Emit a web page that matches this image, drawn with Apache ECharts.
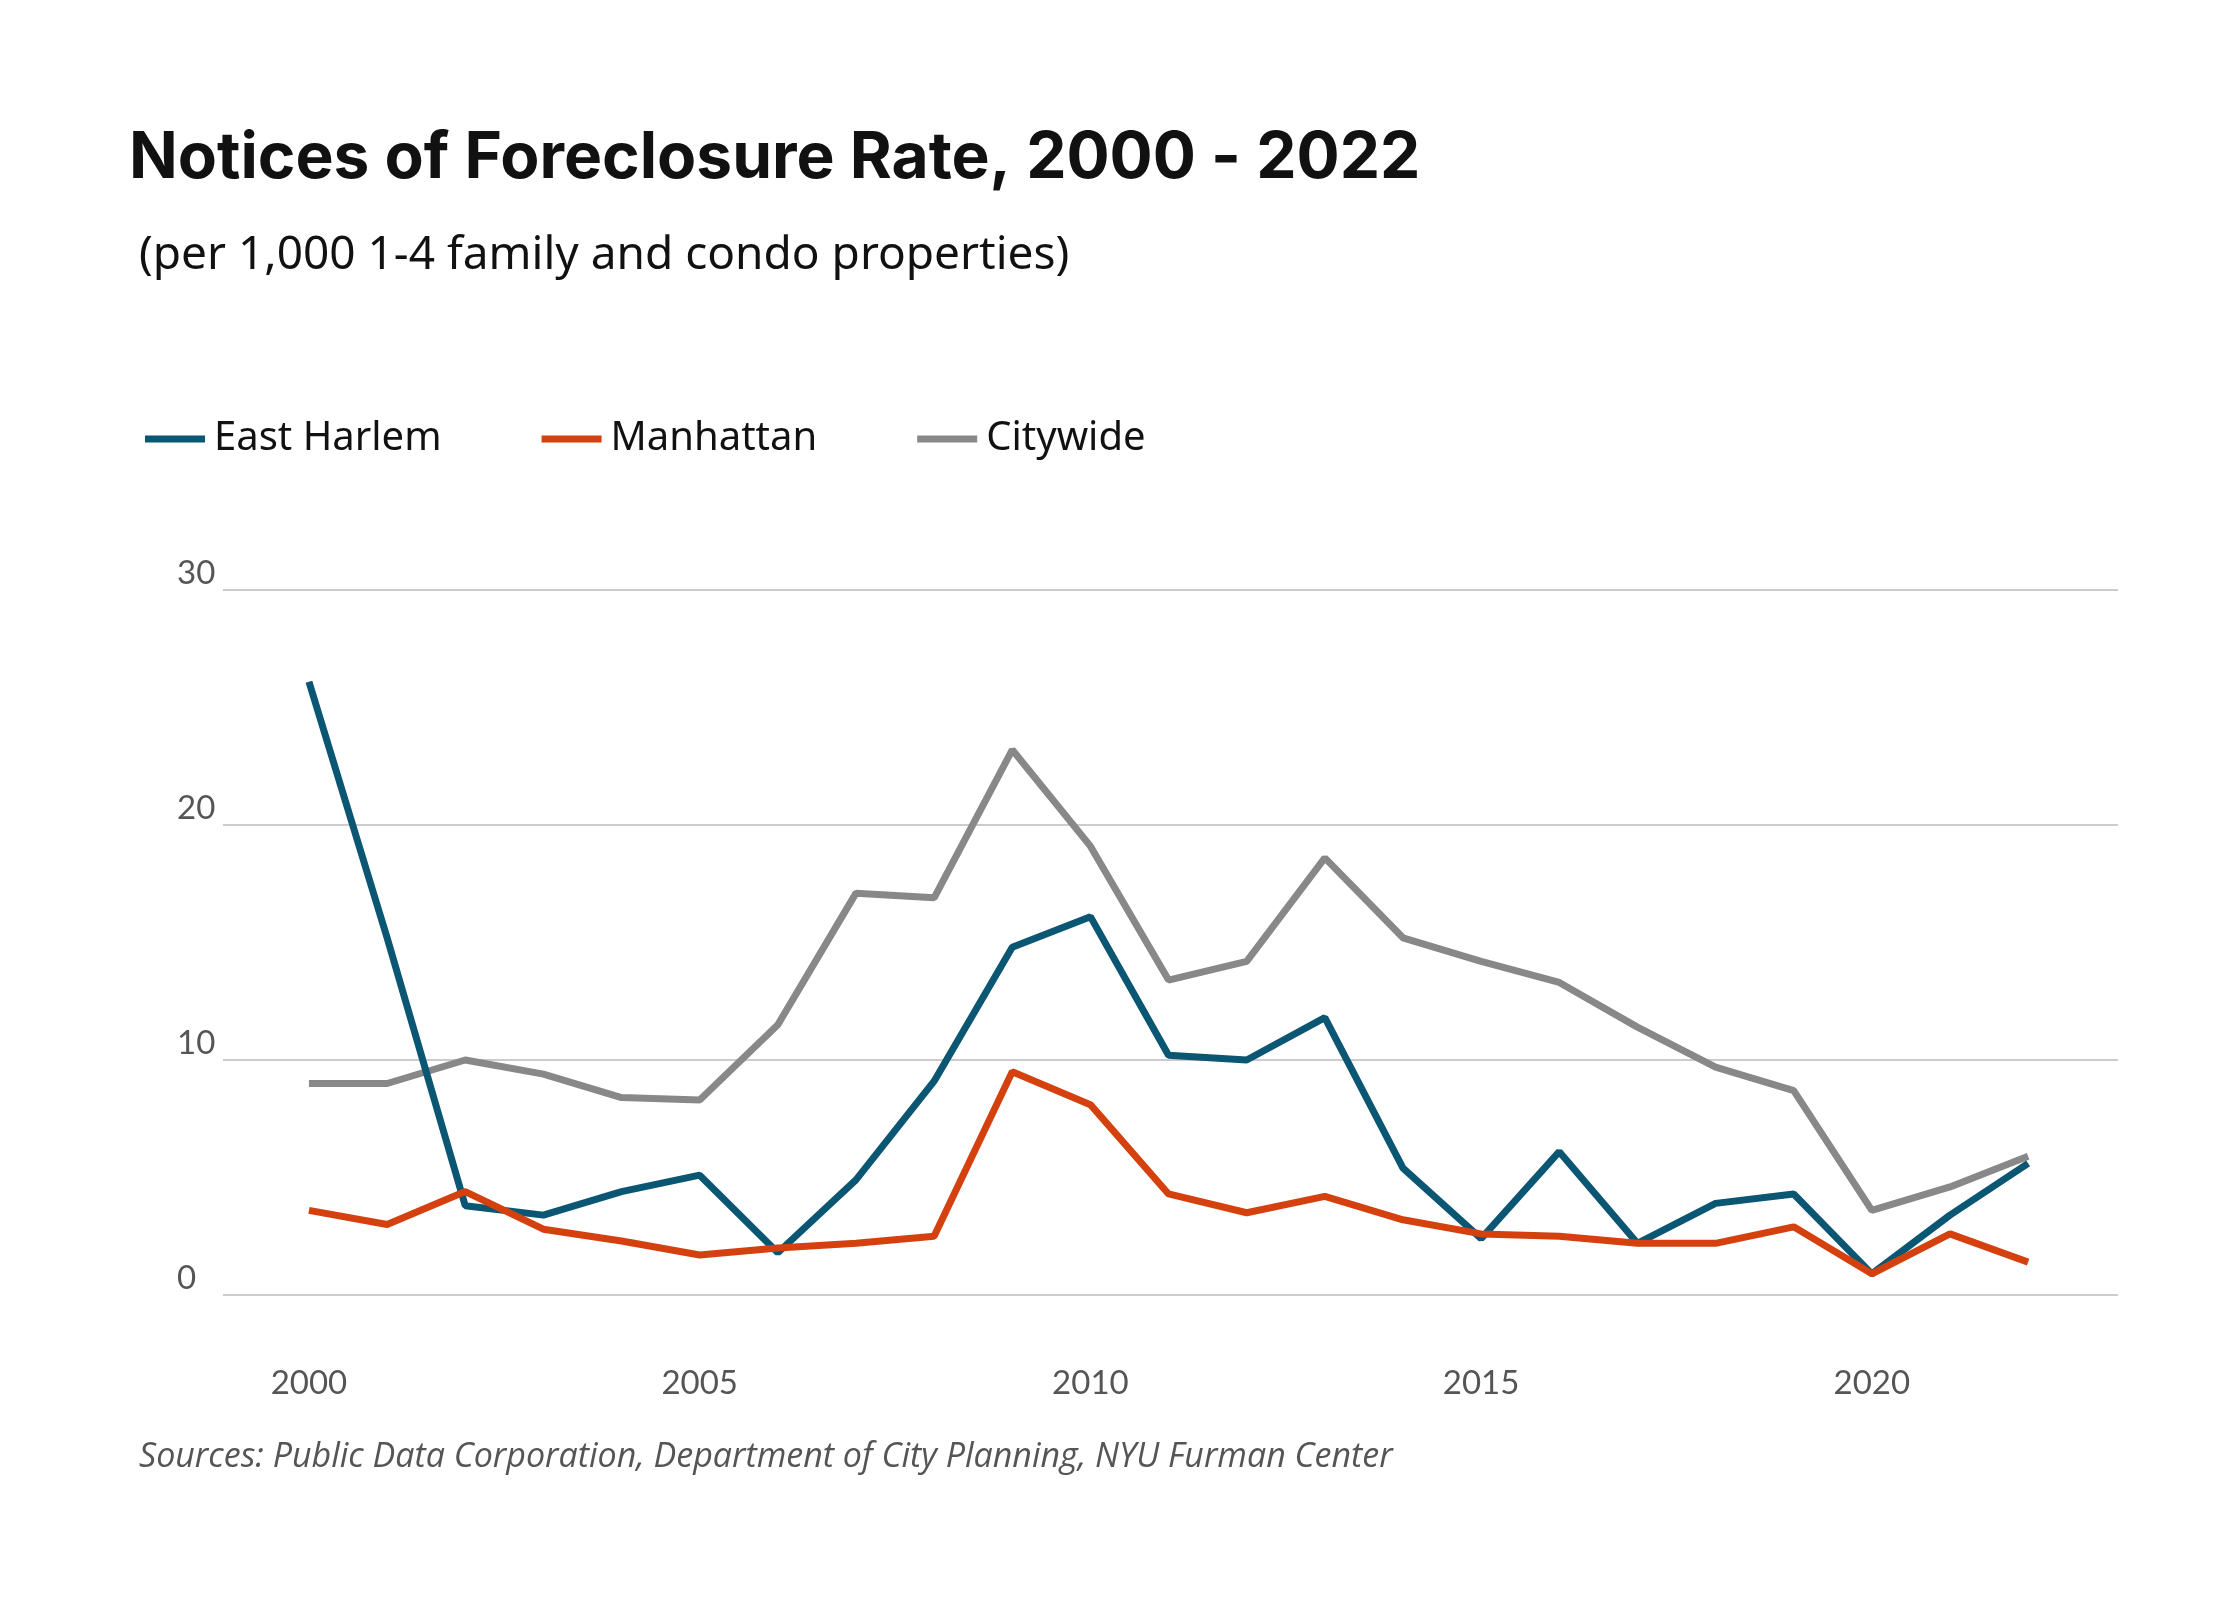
<!DOCTYPE html>
<html lang="en">
<head>
  <meta charset="UTF-8">
  <title>Notices of Foreclosure Rate</title>
  <style>
    body { margin: 0; background-color: #fff; }
  </style>
  <script src="https://cdn.jsdelivr.net/npm/echarts@6/dist/echarts.min.js"></script>
</head>
<body>
<div id="chart" style="width: 2240px; height: 1600px;"></div>
<script>
  // data
  let years = [2000, 2001, 2002, 2003, 2004, 2005, 2006, 2007, 2008, 2009, 2010, 2011,
    2012, 2013, 2014, 2015, 2016, 2017, 2018, 2019, 2020, 2021, 2022]
  let eastHarlem = [26.1, 15.2, 3.8, 3.4, 4.4, 5.1, 1.8, 4.9, 9.1, 14.8, 16.1, 10.2,
    10.0, 11.8, 5.4, 2.4, 6.1, 2.2, 3.9, 4.3, 0.9, 3.4, 5.6]
  let manhattan = [3.6, 3.0, 4.4, 2.8, 2.3, 1.7, 2.0, 2.2, 2.5, 9.5, 8.1, 4.3,
    3.5, 4.2, 3.2, 2.6, 2.5, 2.2, 2.2, 2.9, 0.9, 2.6, 1.4]
  let citywide = [9.0, 9.0, 10.0, 9.4, 8.4, 8.3, 11.5, 17.1, 16.9, 23.2, 19.1, 13.4,
    14.2, 18.6, 15.2, 14.2, 13.3, 11.4, 9.7, 8.7, 3.6, 4.6, 5.9]
  let yearTicks = [2000, 2005, 2010, 2015, 2020]

  const pair = arr => years.map((y, i) => [y, arr[i]])
  const font = 'Lato, "Noto Sans", sans-serif'

  const chart = echarts.init(document.getElementById('chart'))
  let option = {
    backgroundColor: '#fff',
    textStyle: { fontFamily: font },
    title: [
      {
        text: 'Notices of Foreclosure Rate, 2000 - 2022',
        left: 124, top: 122,
        textStyle: { fontFamily: 'Inter, sans-serif', fontWeight: 'bold', fontSize: 64, color: '#111' }
      },
      {
        text: '(per 1,000 1-4 family and condo properties)',
        left: 134, top: 228,
        textStyle: { fontFamily: '"Noto Sans", sans-serif', fontWeight: 'normal', fontSize: 46, color: '#111' }
      },
      {
        text: 'Sources: Public Data Corporation, Department of City Planning, NYU Furman Center',
        left: 134, top: 1435,
        textStyle: { fontFamily: '"Open Sans", sans-serif', fontStyle: 'italic', fontWeight: 'normal', fontSize: 34, color: '#555' }
      }
    ],
    legend: {
      left: 140, top: 414,
      icon: 'rect',
      itemWidth: 60, itemHeight: 7,
      itemGap: 100,
      textStyle: { fontFamily: '"Noto Sans", sans-serif', fontSize: 40, color: '#111', padding: [0, 0, 0, 4] },
      data: ['East Harlem', 'Manhattan', 'Citywide']
    },
    grid: { left: 223, right: 122, top: 590, bottom: 305 },
    xAxis: {
      type: 'value',
      min: 1998.9, max: 2023.15,
      splitLine: { show: false },
      axisLine: { show: false },
      axisTick: { show: false },
      axisLabel: {
        customValues: yearTicks,
        fontSize: 33, color: '#555', margin: 72,
        formatter: v => String(v)
      }
    },
    yAxis: {
      type: 'value',
      min: 0, max: 30, interval: 10,
      axisLine: { show: false },
      axisTick: { show: false },
      splitLine: { lineStyle: { color: '#ccc', width: 2 } },
      axisLabel: { fontSize: 33, color: '#555', margin: 46, align: 'left', verticalAlign: 'bottom' }
    },
    series: [
      { name: 'East Harlem', type: 'line', data: pair(eastHarlem), color: '#0b5672' },
      { name: 'Manhattan', type: 'line', data: pair(manhattan), color: '#d4410f' },
      { name: 'Citywide', type: 'line', data: pair(citywide), color: '#888888' }
    ].map(s => Object.assign(s, {
      showSymbol: false,
      lineStyle: { width: 7 },
      z: s.name === 'Citywide' ? 1 : 2
    })),
    animation: false
  }
  chart.setOption(option)
</script>
</body>
</html>
